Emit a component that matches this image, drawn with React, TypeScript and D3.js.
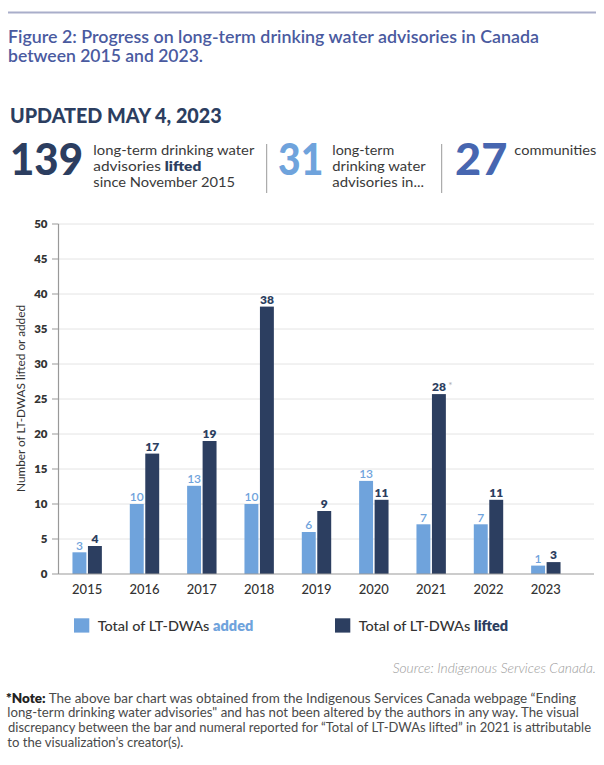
import React from "react";
import * as d3 from "d3";

const years = ["2015", "2016", "2017", "2018", "2019", "2020", "2021", "2022", "2023"];
// drawn bar heights
const addedBars = [3.1, 10, 12.6, 10, 6, 13.3, 7.1, 7.1, 1.2];
const liftedBars = [4, 17.2, 19, 38.2, 9, 10.6, 25.7, 10.6, 1.7];
// numerals printed above bars
const addedLabels = ["3", "10", "13", "10", "6", "13", "7", "7", "1"];
const liftedLabels = ["4", "17", "19", "38", "9", "11", "28", "11", "3"];
const yTicks = [0, 5, 10, 15, 20, 25, 30, 35, 40, 45, 50];
const seriesKeys = ["added", "lifted"];
const seriesColors = ["#6fa3dc", "#2c3e60"];
const legendLabels = ["added", "lifted"];

const W = 604;
const H = 765;
const FONT = "Lato, 'Open Sans', sans-serif";

export default function App() {
  const x = d3.scaleBand<string>().domain(years).range([58.5, 574.5]).paddingInner(0).paddingOuter(0);
  const sub = d3.scaleBand<string>().domain(seriesKeys).range([-14.7, 14.7]).paddingInner(0.1);
  const y = d3.scaleLinear().domain([0, 50]).range([574, 224]);
  const center = (yr: string) => (x(yr) as number) + x.bandwidth() / 2;

  const navy = "#2c3e60";
  const light = "#6fa3dc";
  const textCol = "#333";
  const descSize = 13.2;

  return (
    <svg width={W} height={H} style={{ position: "absolute", left: 0, top: 0, background: "#fff" }} fontFamily={FONT}>
      {/* top rule */}
      <line x1={8} x2={596} y1={12.5} y2={12.5} stroke="#a9aeca" strokeWidth={2} />
      {/* title */}
      <text x={8} y={42.5} fontSize={16.5} fontWeight={600} fill="#4a5a9f" textLength={531} lengthAdjust="spacingAndGlyphs">
        Figure 2: Progress on long-term drinking water advisories in Canada
      </text>
      <text x={8} y={61.5} fontSize={16.5} fontWeight={600} fill="#4a5a9f" textLength={195} lengthAdjust="spacingAndGlyphs">
        between 2015 and 2023.
      </text>

      <text x={10} y={122.7} fontSize={20} fontWeight={900} fill={navy} textLength={211.7} lengthAdjust="spacingAndGlyphs">
        UPDATED MAY 4, 2023
      </text>

      {/* stats */}
      <text x={10} y={175} fontSize={43} fontWeight={900} fill={navy} textLength={73} lengthAdjust="spacingAndGlyphs">139</text>
      <g fontSize={descSize} fill="#3a3a3a" fontWeight={400}>
        <text x={93.3} y={155} textLength={161} lengthAdjust="spacingAndGlyphs">long-term drinking water</text>
        <text x={93.3} y={171} textLength={108} lengthAdjust="spacingAndGlyphs">
          advisories <tspan fontWeight={800} fill={navy}>lifted</tspan>
        </text>
        <text x={93.3} y={187} textLength={141.7} lengthAdjust="spacingAndGlyphs">since November 2015</text>
      </g>
      <line x1={266.7} x2={266.7} y1={144} y2={193} stroke="#999" strokeWidth={1} />
      <text x={278} y={175} fontSize={43} fontWeight={900} fill={light} textLength={45.3} lengthAdjust="spacingAndGlyphs">31</text>
      <g fontSize={descSize} fill="#3a3a3a" fontWeight={400}>
        <text x={332.3} y={155} textLength={62} lengthAdjust="spacingAndGlyphs">long-term</text>
        <text x={332.3} y={171} textLength={93.3} lengthAdjust="spacingAndGlyphs">drinking water</text>
        <text x={332.3} y={187} textLength={91.7} lengthAdjust="spacingAndGlyphs">advisories in...</text>
      </g>
      <line x1={441.7} x2={441.7} y1={144} y2={193} stroke="#999" strokeWidth={1} />
      <text x={455} y={175} fontSize={43} fontWeight={900} fill="#4766b0" textLength={52.3} lengthAdjust="spacingAndGlyphs">27</text>
      <text x={514.3} y={154.5} fontSize={descSize} fill="#3a3a3a" textLength={82} lengthAdjust="spacingAndGlyphs">communities</text>

      {/* gridlines */}
      {yTicks.filter((t) => t > 0).map((t) => (
        <line key={"g" + t} x1={58.5} x2={594} y1={y(t)} y2={y(t)} stroke="#e4e4e4" strokeWidth={1} />
      ))}
      {/* y axis */}
      <line x1={58.5} x2={58.5} y1={224} y2={574} stroke="#999" strokeWidth={1.2} />
      {yTicks.map((t) => (
        <g key={"t" + t}>
          <line x1={52} x2={58.5} y1={y(t)} y2={y(t)} stroke="#999" strokeWidth={1} />
          <text x={47.5} y={y(t) + 4} textAnchor="end" fontSize={11.5} fontWeight={800} fill={textCol}>
            {t}
          </text>
        </g>
      ))}
      <text
        transform={`translate(24.5, ${398.5}) rotate(-90)`}
        textAnchor="middle"
        fontSize={11}
        fill={textCol}
        textLength={187}
        lengthAdjust="spacingAndGlyphs"
      >
        Number of LT-DWAS lifted or added
      </text>

      {/* bars */}
      {years.map((yr, i) => {
        const c = center(yr);
        const vals = [addedBars[i], liftedBars[i]];
        const labs = [addedLabels[i], liftedLabels[i]];
        return (
          <g key={yr}>
            {seriesKeys.map((k, j) => {
              const bx = c + (sub(k) as number);
              const bw = sub.bandwidth();
              const top = y(vals[j]);
              return (
                <g key={k}>
                  <rect x={bx} y={top} width={bw} height={574 - top} fill={seriesColors[j]} />
                  <text
                    x={bx + bw / 2}
                    y={top - 2.8}
                    textAnchor="middle"
                    fontSize={12}
                    fontWeight={j === 0 ? 600 : 800}
                    fill={seriesColors[j]}
                  >
                    {labs[j]}
                  </text>
                  {yr === "2021" && k === "lifted" ? (
                    <text x={bx + bw + 2.5} y={top - 5} fontSize={10} fill="#aaa">*</text>
                  ) : null}
                </g>
              );
            })}
            <text x={c} y={594.3} textAnchor="middle" fontSize={13} fontWeight={500} fill={textCol}>
              {yr}
            </text>
          </g>
        );
      })}
      {/* x baseline */}
      <line x1={58.5} x2={594} y1={574} y2={574} stroke="#999" strokeWidth={1.2} />

      {/* legend */}
      {legendLabels.map((lab, i) => {
        const sx = i === 0 ? 74 : 335;
        const tw = i === 0 ? 155.6 : 149.4;
        return (
          <g key={lab}>
            <rect x={sx} y={618.3} width={15.3} height={14.3} fill={seriesColors[i]} />
            <text x={sx + 23.7} y={630.7} fontSize={14} fill={textCol} fontWeight={500} textLength={tw} lengthAdjust="spacingAndGlyphs">
              Total of LT-DWAs <tspan fontWeight={800} fill={seriesColors[i]}>{lab}</tspan>
            </text>
          </g>
        );
      })}

      {/* source */}
      <text x={596} y={673.3} textAnchor="end" fontSize={13} fontStyle="italic" fontWeight={300} fill="#9a9a9a" textLength={203.3} lengthAdjust="spacingAndGlyphs">
        Source: Indigenous Services Canada.
      </text>

      {/* note */}
      <g fontSize={12.5} fill="#4a4a4a" fontWeight={400}>
        <text x={6} y={702.7} textLength={570} lengthAdjust="spacingAndGlyphs">
          <tspan fontWeight={800} fill="#222">*Note:</tspan> The above bar chart was obtained from the Indigenous Services Canada webpage “Ending
        </text>
        <text x={7.3} y={717.3} textLength={571.7} lengthAdjust="spacingAndGlyphs">
          long-term drinking water advisories" and has not been altered by the authors in any way. The visual
        </text>
        <text x={8} y={732} textLength={583} lengthAdjust="spacingAndGlyphs">
          discrepancy between the bar and numeral reported for “Total of LT-DWAs lifted” in 2021 is attributable
        </text>
        <text x={7.3} y={746.7} textLength={176} lengthAdjust="spacingAndGlyphs">
          to the visualization’s creator(s).
        </text>
      </g>
    </svg>
  );
}
